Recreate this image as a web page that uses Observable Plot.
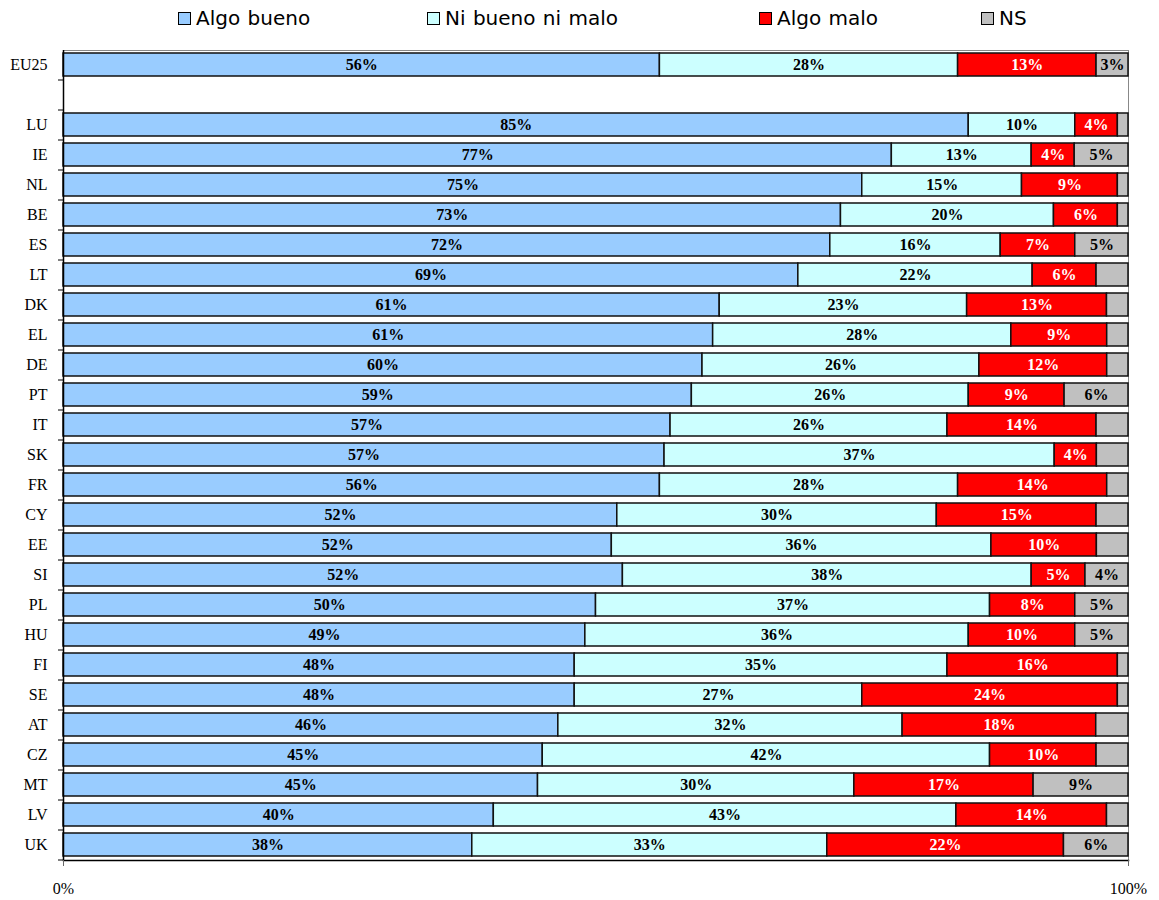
<!DOCTYPE html>
<html>
<head>
<meta charset="utf-8">
<script src="https://cdn.jsdelivr.net/npm/d3@7"></script>
<script src="https://cdn.jsdelivr.net/npm/@observablehq/plot@0.6"></script>
<style>
  body { margin: 0; background: #fff; }
  #legend { position: relative; height: 40px; font-family: "DejaVu Sans", Verdana, sans-serif; font-size: 20px; word-spacing: 1px; }
  .item { position: absolute; top: 6px; display: flex; align-items: center; white-space: nowrap; }
  .sw { width: 11px; height: 11px; border: 1px solid #000; margin-right: 5px; }
</style>
</head>
<body>
<div id="legend"></div>
<div id="chart"></div>
<script>
const countries = ["EU25", " ", "LU", "IE", "NL", "BE", "ES", "LT", "DK", "EL", "DE", "PT", "IT", "SK", "FR", "CY", "EE", "SI", "PL", "HU", "FI", "SE", "AT", "CZ", "MT", "LV", "UK"];
const seriesNames = ["Algo bueno", "Ni bueno ni malo", "Algo malo", "NS"];
const seriesColors = ["#99CCFF", "#CCFFFF", "#FF0000", "#C0C0C0"];
const algoBueno = [56, null, 85, 77, 75, 73, 72, 69, 61, 61, 60, 59, 57, 57, 56, 52, 52, 52, 50, 49, 48, 48, 46, 45, 45, 40, 38];
const niBueno   = [28, null, 10, 13, 15, 20, 16, 22, 23, 28, 26, 26, 26, 37, 28, 30, 36, 38, 37, 36, 35, 27, 32, 42, 30, 43, 33];
const algoMalo  = [13, null, 4, 4, 9, 6, 7, 6, 13, 9, 12, 9, 14, 4, 14, 15, 10, 5, 8, 10, 16, 24, 18, 10, 17, 14, 22];
const ns        = [3, null, 1, 5, 1, 1, 5, 3, 2, 2, 2, 6, 3, 3, 2, 3, 3, 4, 5, 5, 1, 1, 3, 3, 9, 2, 6];
// which NS values carry a printed label
const nsLabelShown = [true, false, false, true, false, false, true, false, false, false, false, true, false, false, false, false, false, true, true, true, false, false, false, false, true, false, true];
const xTicks = [0, 1];

const seriesValues = [algoBueno, niBueno, algoMalo, ns];
const data = [];
countries.forEach((c, i) => {
  if (algoBueno[i] == null) return;
  seriesValues.forEach((vals, s) => {
    const showLabel = s < 3 || nsLabelShown[i];
    data.push({country: c, series: seriesNames[s], value: vals[i], label: showLabel ? vals[i] + "%" : null});
  });
});

// legend
const legend = document.getElementById("legend");
const legendLeft = [178, 427, 759, 981];
seriesNames.forEach((n, i) => {
  const it = document.createElement("div");
  it.className = "item";
  it.style.left = legendLeft[i] + "px";
  it.innerHTML = `<span class="sw" style="background:${seriesColors[i]}"></span><span>${n}</span>`;
  legend.appendChild(it);
});

const stackOpts = {x: "value", y: "country", z: "series", offset: "normalize", order: seriesNames};

const chart = Plot.plot({
  width: 1159,
  height: 860,
  marginLeft: 63,
  marginRight: 31,
  marginTop: 10,
  marginBottom: 40,
  style: {fontFamily: "'Liberation Serif', 'Times New Roman', serif", background: "#fff"},
  x: {domain: [0, 1], axis: null},
  y: {domain: countries, axis: null, paddingInner: 0.22, paddingOuter: 0.11},
  color: {domain: seriesNames, range: seriesColors},
  marks: [
    Plot.frame({stroke: "#888", strokeWidth: 1}),
    Plot.barX(data, Plot.stackX({...stackOpts, fill: "series", stroke: "#111", strokeWidth: 1.5})),
    Plot.text(data, Plot.stackX({...stackOpts, text: d => d.series !== "Algo malo" ? d.label : null, fill: "#000", fontWeight: "bold", fontSize: 16})),
    Plot.text(data, Plot.stackX({...stackOpts, text: d => d.series === "Algo malo" ? d.label : null, fill: "#fff", fontWeight: "bold", fontSize: 16})),
    Plot.ruleX([0], {stroke: "#000", strokeWidth: 1.5}),
    Plot.frame({anchor: "bottom", stroke: "#000", strokeWidth: 1.5}),
    Plot.axisY({tickSize: 0, tickPadding: 16, fontSize: 16, fill: "#000", label: null}),
    Plot.axisY({tickSize: 5, dy: 15, tickFormat: () => "", stroke: "#000", label: null}),
    Plot.axisX(xTicks, {tickSize: 6, tickPadding: 16, tickFormat: d3.format(".0%"), fontSize: 16, label: null, stroke: "#666"})
  ]
});
document.getElementById("chart").appendChild(chart);
</script>
</body>
</html>
